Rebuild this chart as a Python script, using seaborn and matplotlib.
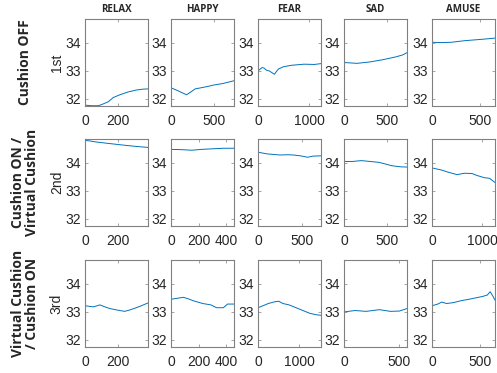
import matplotlib
matplotlib.use('Agg')
import matplotlib.pyplot as plt
import pandas as pd
import seaborn as sns

sns.set_style('ticks')
plt.rcParams['font.family'] = ['Liberation Sans', 'DejaVu Sans']

emotions = ['RELAX', 'HAPPY', 'FEAR', 'SAD', 'AMUSE']
row_titles = ['Cushion OFF', 'Cushion ON /\nVirtual Cushion', 'Virtual Cushion\n/ Cushion ON']
row_labels = ['1st', '2nd', '3rd']

# session 1 (cushion off)
relax_1_x = [0, 40, 80, 100, 140, 170, 210, 260, 310, 350, 380]
relax_1_y = [31.78, 31.76, 31.76, 31.8, 31.9, 32.05, 32.15, 32.25, 32.32, 32.35, 32.36]
happy_1_x = [0, 90, 180, 230, 280, 350, 430, 500, 600, 730]
happy_1_y = [32.4, 32.28, 32.15, 32.25, 32.36, 32.4, 32.45, 32.5, 32.55, 32.65]
fear_1_x = [0, 80, 120, 160, 220, 320, 360, 400, 500, 650, 900, 1100, 1230]
fear_1_y = [33.0, 33.12, 33.1, 33.03, 33.0, 32.88, 32.98, 33.07, 33.15, 33.2, 33.24, 33.23, 33.26]
sad_1_x = [0, 150, 300, 450, 600, 680, 730]
sad_1_y = [33.3, 33.27, 33.32, 33.4, 33.5, 33.57, 33.65]
amuse_1_x = [0, 100, 200, 350, 500, 600, 660]
amuse_1_y = [34.02, 34.01, 34.02, 34.08, 34.12, 34.15, 34.17]

# session 2 (cushion on / virtual cushion)
relax_2_x = [0, 30, 60, 130, 190, 250, 320, 380]
relax_2_y = [34.8, 34.78, 34.75, 34.7, 34.66, 34.62, 34.58, 34.55]
happy_2_x = [0, 80, 150, 220, 300, 380, 457]
happy_2_y = [34.48, 34.47, 34.45, 34.48, 34.5, 34.52, 34.52]
fear_2_x = [0, 50, 100, 250, 330, 400, 480, 560, 620, 710]
fear_2_y = [34.38, 34.35, 34.32, 34.28, 34.29, 34.28, 34.25, 34.2, 34.24, 34.25]
sad_2_x = [0, 100, 200, 300, 400, 480, 550, 650, 730]
sad_2_y = [34.05, 34.05, 34.08, 34.05, 34.02, 33.96, 33.9, 33.86, 33.85]
amuse_2_x = [0, 100, 200, 300, 500, 650, 800, 900, 1050, 1150, 1260]
amuse_2_y = [33.82, 33.78, 33.74, 33.68, 33.58, 33.63, 33.62, 33.55, 33.47, 33.45, 33.3]

# session 3 (virtual cushion / cushion on)
relax_3_x = [0, 25, 50, 90, 120, 150, 200, 240, 270, 300, 340, 380]
relax_3_y = [33.22, 33.2, 33.18, 33.25, 33.18, 33.12, 33.06, 33.02, 33.07, 33.13, 33.22, 33.32]
happy_3_x = [0, 50, 90, 130, 160, 230, 290, 330, 380, 410, 457]
happy_3_y = [33.45, 33.49, 33.52, 33.46, 33.4, 33.3, 33.25, 33.15, 33.15, 33.28, 33.28]
fear_3_x = [0, 120, 250, 400, 500, 600, 750, 1000, 1250, 1400, 1520]
fear_3_y = [33.15, 33.22, 33.3, 33.36, 33.38, 33.3, 33.25, 33.1, 32.95, 32.9, 32.88]
sad_3_x = [0, 100, 200, 320, 420, 500, 570]
sad_3_y = [33.0, 33.05, 33.02, 33.08, 33.02, 33.03, 33.12]
amuse_3_x = [0, 60, 100, 150, 220, 300, 380, 450, 520, 570, 600, 630, 650]
amuse_3_y = [33.22, 33.28, 33.35, 33.3, 33.33, 33.4, 33.45, 33.5, 33.55, 33.6, 33.72, 33.55, 33.42]

series = [
    [(relax_1_x, relax_1_y), (happy_1_x, happy_1_y), (fear_1_x, fear_1_y), (sad_1_x, sad_1_y), (amuse_1_x, amuse_1_y)],
    [(relax_2_x, relax_2_y), (happy_2_x, happy_2_y), (fear_2_x, fear_2_y), (sad_2_x, sad_2_y), (amuse_2_x, amuse_2_y)],
    [(relax_3_x, relax_3_y), (happy_3_x, happy_3_y), (fear_3_x, fear_3_y), (sad_3_x, sad_3_y), (amuse_3_x, amuse_3_y)],
]
x_ticks = [
    [[0, 200], [0, 500], [0, 1000], [0, 500], [0, 500]],
    [[0, 200], [0, 200, 400], [0, 500], [0, 500], [0, 1000]],
    [[0, 200], [0, 200, 400], [0, 1000], [0, 500], [0, 500]],
]
x_max = [
    [380, 730, 1230, 730, 660],
    [380, 457, 710, 730, 1260],
    [380, 457, 1520, 570, 650],
]

W, H = 497, 373
fig = plt.figure(figsize=(W / 100, H / 100), dpi=100)
col_left = [85, 171, 258, 344, 432]
row_top = [19, 139, 260]
aw, ah = 63, 87

for r in range(3):
    for c in range(5):
        ax = fig.add_axes([col_left[c] / W, 1 - (row_top[r] + ah) / H, aw / W, ah / H])
        xs, ys = series[r][c]
        df = pd.DataFrame({'t': xs, 'temp': ys})
        sns.lineplot(data=df, x='t', y='temp', ax=ax, color='#0072BD', linewidth=0.7)
        ax.set_xlim(0, x_max[r][c])
        ax.set_ylim(31.75, 34.85)
        ax.set_xticks(x_ticks[r][c])
        ax.set_yticks([32, 33, 34])
        ax.tick_params(direction='in', length=2, width=0.5, labelsize=10,
                       colors='#808080', labelcolor='#262626', top=True, right=True, pad=3)
        ax.tick_params(axis='x', pad=6)
        for s in ax.spines.values():
            s.set_color('#808080')
            s.set_linewidth(0.8)
        ax.set_xlabel('')
        if c == 0:
            ax.set_ylabel(row_labels[r], fontsize=10, color='#262626', labelpad=1)
        else:
            ax.set_ylabel('')
        if r == 0:
            ax.set_title(emotions[c], fontsize=7, fontweight='bold', pad=5,
                         family=['Open Sans', 'DejaVu Sans'])

for r in range(3):
    yc = 1 - (row_top[r] + ah / 2) / H
    fig.text(25 / W, yc, row_titles[r], rotation=90, ha='center', va='center',
             fontsize=10, fontweight='bold', family=['Open Sans', 'DejaVu Sans'],
             linespacing=1.0)

fig.savefig('out.png', dpi=100)
